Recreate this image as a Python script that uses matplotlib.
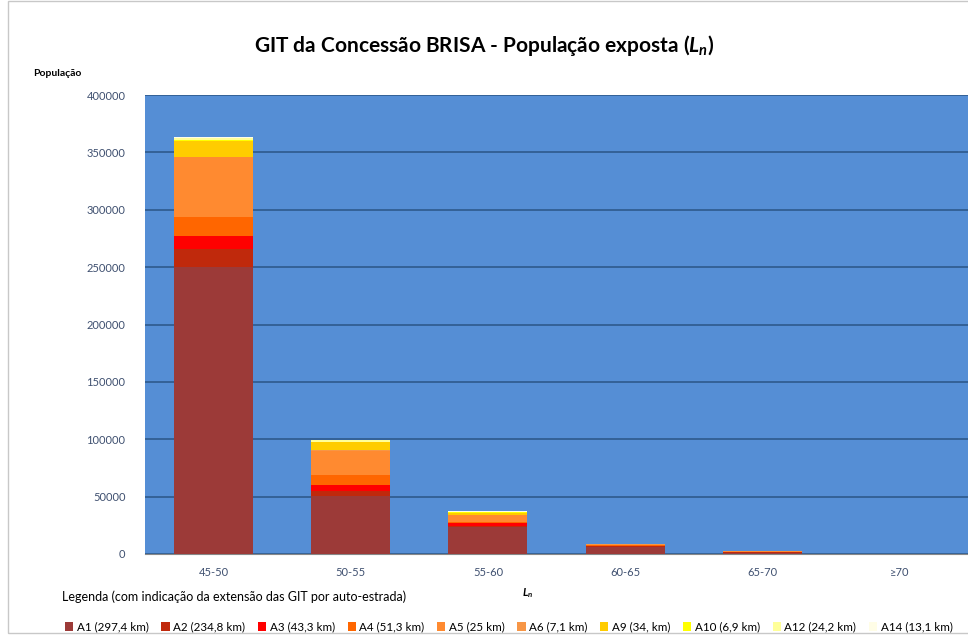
import numpy as np
import matplotlib.pyplot as plt
from matplotlib.patches import Rectangle

plt.rcParams['font.family'] = ['Lato', 'DejaVu Sans']
plt.rcParams['mathtext.fontset'] = 'custom'
plt.rcParams['mathtext.it'] = 'Lato:italic:bold'
plt.rcParams['mathtext.rm'] = 'Lato:bold'

# classes de Ln
categorias = ["45-50", "50-55", "55-60", "60-65", "65-70", "≥70"]

# população exposta por auto-estrada
series = ["A1 (297,4 km)", "A2 (234,8 km)", "A3 (43,3 km)", "A4 (51,3 km)", "A5 (25 km)",
          "A6 (7,1 km)", "A9 (34, km)", "A10 (6,9 km)", "A12 (24,2 km)", "A14 (13,1 km)"]
a1 = [250000, 50500, 23300, 6100, 1100, 0]
a2 = [16000, 4400, 1400, 900, 600, 0]
a3 = [10700, 5200, 2100, 200, 0, 0]
a4 = [17000, 9000, 900, 400, 0, 0]
a5 = [52000, 21000, 6000, 600, 600, 0]
a6 = [600, 500, 300, 100, 0, 0]
a9 = [14000, 6700, 2000, 300, 200, 0]
a10 = [800, 500, 300, 0, 0, 0]
a12 = [1500, 1200, 700, 100, 100, 0]
a14 = [700, 300, 200, 0, 0, 0]
valores = [a1, a2, a3, a4, a5, a6, a9, a10, a12, a14]

cores = ["#9C3A38", "#C0290C", "#FF0000", "#FF6600", "#FF8A30",
         "#F79646", "#FFCC00", "#FFFF00", "#FFFF99", "#FFFDE6"]

fig = plt.figure(figsize=(9.68, 6.41), dpi=100)
ax = fig.add_axes([145 / 968, 1 - 554 / 641, 1 - 145 / 968, (554 - 95) / 641])
ax.set_facecolor("#558ED5")

x = np.arange(len(categorias))
base = np.zeros(len(categorias))
for nome, v, c in zip(series, valores, cores):
    ax.bar(x, v, 0.575, bottom=base, color=c, label=nome, zorder=3)
    base += np.array(v)

ax.set_xlim(-0.5, len(categorias) - 0.5)
ax.set_ylim(0, 400000)
ax.set_yticks(np.arange(0, 400001, 50000))
ax.yaxis.grid(True, color="#2E5A8C", linewidth=1.2, zorder=1)
ax.set_axisbelow(True)
ax.set_xticks(x)
ax.set_xticklabels(categorias)
ax.tick_params(axis="both", length=0, labelsize=8, labelcolor="#3F5070")
ax.tick_params(axis="x", pad=9)
ax.tick_params(axis="y", pad=14)
for s in ["top", "right", "left"]:
    ax.spines[s].set_visible(False)
ax.spines["bottom"].set_color("#888888")

fig.text(0.5, 1 - 45 / 641, "GIT da Concessão BRISA - População exposta ($L_n$)",
         ha="center", va="center", fontsize=15, fontweight="bold")
fig.text(33 / 968, 1 - 73 / 641, "População", ha="left", va="center", fontsize=7.5, fontweight="bold")
fig.text(528 / 968, 1 - 593 / 641, "$L_n$", ha="center", va="center", fontsize=8)
fig.text(62 / 968, 1 - 597 / 641, "Legenda (com indicação da extensão das GIT por auto-estrada)",
         ha="left", va="center", fontsize=9)

h, l = ax.get_legend_handles_labels()
fig.legend(h, l, ncol=10, loc="center left", bbox_to_anchor=(65 / 968, 1 - 627 / 641),
           frameon=False, fontsize=8.4, handlelength=0.7, handleheight=0.7,
           handletextpad=0.3, columnspacing=1.1, borderaxespad=0, borderpad=0)

fig.patches.append(Rectangle((8 / 968, 1 - 633 / 641), 1, 633 / 641 - 0.001, transform=fig.transFigure,
                             fill=False, edgecolor="#C8C8C8", linewidth=1))

fig.savefig("out.png", dpi=100)
